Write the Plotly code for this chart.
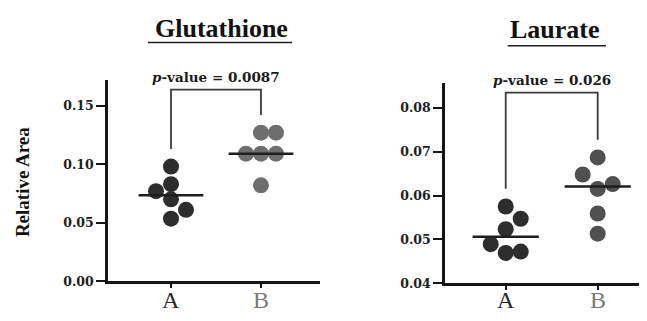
import numpy as np
import plotly.graph_objects as go

# ---------------- data ----------------
categories = ["A", "B"]
titles = ["Glutathione", "Laurate"]
p_values = ["0.0087", "0.026"]

glut_A = [0.0535, 0.061, 0.070, 0.077, 0.083, 0.098]
glut_B = [0.082, 0.109, 0.109, 0.109, 0.127, 0.127]
laur_A = [0.0469, 0.0472, 0.0489, 0.0523, 0.0547, 0.0575]
laur_B = [0.0513, 0.0559, 0.0615, 0.0626, 0.0648, 0.0687]

glut_ticks = [0.00, 0.05, 0.10, 0.15]
laur_ticks = [0.04, 0.05, 0.06, 0.07, 0.08]

# ---------------- layout geometry (screen pixels) ----------------
W, H = 647, 321
OFF = 8  # default <body> margin of the html page shifts the figure by 8px
SERIF = "Liberation Serif"
WIDE = "DejaVu Serif"


def sx(px):
    return (px - OFF) / W


def sy(py):
    return 1 - (py - OFF) / H


panels = [
    dict(data=[glut_A, glut_B], ticks=glut_ticks, yr=[0.0, 0.1717], xr=[-0.70, 1.656],
         xpx=(108, 320), ypx=(82, 287.3), colors=["#2d2d2d", "#6e6e6e"],
         title=titles[0], pv=p_values[0], tx=221, ty=29, ul=(148, 292, 43.3)),
    dict(data=[laur_A, laur_B], ticks=laur_ticks, yr=[0.04, 0.0856], xr=[-0.66, 1.623],
         xpx=(445, 655), ypx=(85, 289.3), colors=["#2d2d2d", "#505050"],
         title=titles[1], pv=p_values[1], tx=555, ty=30, ul=(507.7, 606, 46.7)),
]

MARKER_PX = 16
STEP_PX = 15
MIN_PX = 15


def swarm(values, px_per_val):
    """Simple greedy beeswarm: returns x offsets in pixels."""
    order = sorted(range(len(values)), key=lambda i: values[i])
    placed = []
    offs = [0.0] * len(values)
    side = 1
    for i in order:
        y = values[i] * px_per_val

        def mind(x):
            return min((np.hypot(x - px, y - py) for px, py in placed), default=1e9)

        if mind(0) >= MIN_PX:
            x = 0.0
        else:
            k = 1
            while True:
                a, b = side * k * STEP_PX, -side * k * STEP_PX
                da, db = mind(a), mind(b)
                if da >= MIN_PX and db >= MIN_PX:
                    x = a if (abs(da - db) <= 0.5 or da > db) else b
                    break
                if da >= MIN_PX:
                    x = a
                    break
                if db >= MIN_PX:
                    x = b
                    break
                k += 1
            side = -side
        placed.append((x, y))
        offs[i] = x
    return offs


fig = go.Figure()
layout = dict(width=W, height=H, margin=dict(l=0, r=0, t=0, b=0),
              paper_bgcolor="white", plot_bgcolor="white", showlegend=False,
              shapes=[], annotations=[])

cat_colors = ["#2a2a2a", "#7a7a7a"]

for n, p in enumerate(panels):
    xs = "" if n == 0 else str(n + 1)
    xa, ya = "x" + xs, "y" + xs
    x0, x1 = p["xpx"]
    ytop, ybot = p["ypx"]
    px_per_x = (x1 - x0) / (p["xr"][1] - p["xr"][0])
    px_per_y = (ybot - ytop) / (p["yr"][1] - p["yr"][0])

    for ci, vals in enumerate(p["data"]):
        offs = swarm(vals, px_per_y)
        fig.add_trace(go.Scatter(
            x=[ci + o / px_per_x for o in offs], y=vals, mode="markers",
            marker=dict(size=MARKER_PX, color=p["colors"][ci], line=dict(width=0)),
            xaxis=xa, yaxis=ya, hoverinfo="skip"))
        med = float(np.median(vals))
        fig.add_trace(go.Scatter(
            x=[ci - 0.36, ci + 0.36], y=[med, med], mode="lines",
            line=dict(color="#1e1e1e", width=2.4),
            xaxis=xa, yaxis=ya, hoverinfo="skip"))

    # category labels
    for ci, c in enumerate(categories):
        layout["annotations"].append(dict(
            x=ci, xref=xa, y=sy(307), yref="paper",
            xanchor="center", yanchor="middle", showarrow=False, text=c,
            font=dict(family=SERIF, size=24, color=cat_colors[ci])))

    # significance bracket
    gap = 18 / px_per_y
    top = p["yr"][1] - 9.5 / px_per_y
    legA = max(p["data"][0]) + gap
    legB = max(p["data"][1]) + gap
    fig.add_trace(go.Scatter(
        x=[0, 0, 1, 1], y=[legA, top, top, legB], mode="lines",
        line=dict(color="#3a3a3a", width=1.8),
        xaxis=xa, yaxis=ya, hoverinfo="skip"))
    layout["annotations"].append(dict(
        x=0.5, y=top, xref=xa, yref=ya, yanchor="bottom", yshift=3,
        text="<i>p</i>-value = " + p["pv"], showarrow=False,
        font=dict(family=WIDE, size=13.5, color="#1a1a1a", weight="bold")))

    # title + underline
    layout["annotations"].append(dict(
        x=sx(p["tx"]), y=sy(p["ty"]), xref="paper", yref="paper",
        xanchor="center", yanchor="middle", showarrow=False,
        text=p["title"],
        font=dict(family=SERIF, size=26, color="#111111", weight="bold")))
    ux0, ux1, uy = p["ul"]
    layout["shapes"].append(dict(
        type="line", xref="paper", yref="paper",
        x0=sx(ux0), x1=sx(ux1), y0=sy(uy), y1=sy(uy),
        line=dict(color="#222222", width=1.5)))

    layout["xaxis" + xs] = dict(
        domain=[sx(x0), min(sx(x1), 1.0)], range=p["xr"], anchor=ya,
        tickvals=list(range(len(categories))), showticklabels=False,
        showline=True, linewidth=2.6, linecolor="#151515",
        ticks="outside", ticklen=4, tickwidth=2, tickcolor="#151515",
        showgrid=False, zeroline=False, fixedrange=True)
    layout["yaxis" + xs] = dict(
        domain=[sy(ybot), sy(ytop)], range=p["yr"], anchor=xa,
        tickvals=p["ticks"], ticktext=["%.2f" % t for t in p["ticks"]],
        tickfont=dict(family=WIDE, size=12.5, color="#1e1e1e", weight="bold"),
        showline=True, linewidth=2.6, linecolor="#151515",
        ticks="outside", ticklen=9, tickwidth=2, tickcolor="#151515",
        showgrid=False, zeroline=False, fixedrange=True)

layout["annotations"].append(dict(
    x=sx(22), y=sy(186), xref="paper", yref="paper", textangle=-90,
    xanchor="center", yanchor="middle", showarrow=False,
    text="Relative Area", font=dict(family=SERIF, size=19, color="#111111", weight="bold")))

fig.update_layout(**layout)
fig.write_html("out.html")
